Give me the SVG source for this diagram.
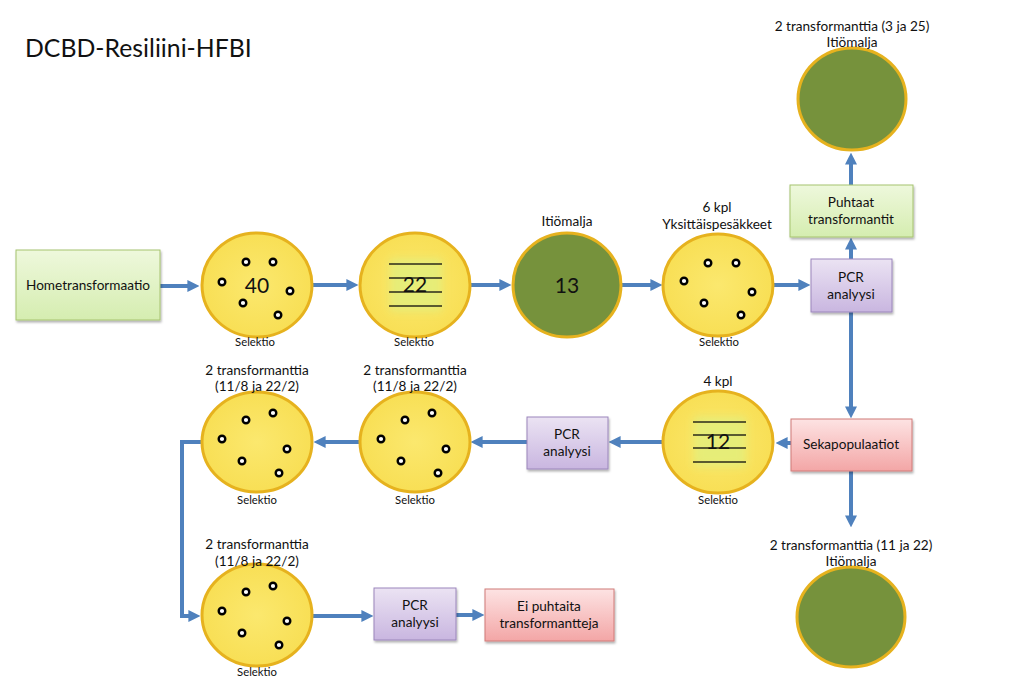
<svg xmlns="http://www.w3.org/2000/svg" width="1023" height="679" viewBox="0 0 1023 679">
<style>
text{font-family:Lato,"Open Sans","Liberation Sans",sans-serif;fill:#111;text-anchor:middle}
.title{font-size:24.8px;text-anchor:start}
.lbl{font-size:13.6px}
.sel{font-size:11.3px}
.num{font-size:21px}
.plate{fill:url(#yel);stroke:#e6b21e;stroke-width:3}
.spore{fill:#76923c;stroke:#e6b21e;stroke-width:3}
.dot{fill:#fff;stroke:#000;stroke-width:2.4}
.stripe{stroke:#2a2a1a;stroke-width:1.3}
.green{fill:url(#grn);stroke:#a6c36e;stroke-width:1}
.purple{fill:url(#pur);stroke:#9b86bb;stroke-width:1}
.red{fill:url(#red);stroke:#d07b78;stroke-width:1}
.conn path{fill:none;stroke:#4f81bd;stroke-width:4;marker-end:url(#ah)}
</style>
<defs>
<marker id="ah" viewBox="0 0 10 10" markerUnits="userSpaceOnUse" markerWidth="12" markerHeight="13" refX="3" refY="5" orient="auto">
<path d="M0,0 L10,5 L0,10 z" fill="#4f81bd"/>
</marker>
<radialGradient id="yel" cx="50%" cy="50%" r="50%">
<stop offset="0" stop-color="#fbe86e"/><stop offset="1" stop-color="#f8df55"/>
</radialGradient>
<linearGradient id="grn" x1="0" y1="0" x2="0" y2="1"><stop offset="0" stop-color="#eef8dc"/><stop offset="1" stop-color="#d5edb0"/></linearGradient>
<linearGradient id="pur" x1="0" y1="0" x2="0" y2="1"><stop offset="0" stop-color="#ebe3f3"/><stop offset="1" stop-color="#c9b6e0"/></linearGradient>
<linearGradient id="red" x1="0" y1="0" x2="0" y2="1"><stop offset="0" stop-color="#fde3e3"/><stop offset="1" stop-color="#f3a6a6"/></linearGradient>
<filter id="sh" x="-10%" y="-10%" width="130%" height="140%"><feDropShadow dx="1" dy="2" stdDeviation="1.2" flood-color="#000" flood-opacity="0.3"/></filter>
<filter id="glow" x="-30%" y="-30%" width="160%" height="160%"><feGaussianBlur stdDeviation="4"/></filter>
</defs>
<rect width="1023" height="679" fill="#fff"/>
<text class="title" x="25" y="57">DCBD-Resiliini-HFBI</text>

<g class="conn" id="connectors">
<path d="M160,286 H191"/>
<path d="M313,285 H350"/>
<path d="M471,285 H503"/>
<path d="M622,285 H654"/>
<path d="M774,285 H802"/>
<path d="M851,259 V246"/>
<path d="M851,185 V161"/>
<path d="M851,312 V410"/>
<path d="M851,471 V519"/>
<path d="M791,443 H784"/>
<path d="M662,442 H617"/>
<path d="M527,442 H479"/>
<path d="M360,442 H322"/>
<path d="M202,442 H182 V616 H192"/>
<path d="M312,616 H365"/>
<path d="M456,615 H476"/>
</g>

<g id="hometransformaatio">
<rect class="green" x="16" y="250" width="144" height="70" filter="url(#sh)"/>
<text class="lbl" x="88" y="290">Hometransformaatio</text>
</g>

<g id="plate40">
<ellipse class="plate" cx="257" cy="285" rx="55" ry="52"/>
<circle class="dot" cx="246" cy="262" r="3.3"/><circle class="dot" cx="273" cy="262" r="3.3"/>
<circle class="dot" cx="222" cy="282" r="3.3"/><circle class="dot" cx="290" cy="291" r="3.3"/>
<circle class="dot" cx="243" cy="303" r="3.3"/><circle class="dot" cx="278" cy="315" r="3.3"/>
<text class="num" x="257" y="293">40</text>
<text class="sel" x="255" y="346">Selektio</text>
</g>

<g id="plate22">
<ellipse class="plate" cx="415" cy="285" rx="55" ry="52"/>
<rect x="390" y="259" width="52" height="52" fill="#e4ee7a" filter="url(#glow)" opacity="0.9"/>
<line class="stripe" x1="389" y1="264" x2="442" y2="264"/>
<line class="stripe" x1="389" y1="278" x2="442" y2="278"/>
<line class="stripe" x1="389" y1="292" x2="442" y2="292"/>
<line class="stripe" x1="389" y1="306" x2="442" y2="306"/>
<text class="num" x="415" y="292" fill="#333">22</text>
<text class="sel" x="414" y="346">Selektio</text>
</g>

<g id="spore13">
<ellipse class="spore" cx="567" cy="285" rx="54" ry="52"/>
<text class="lbl" x="567" y="226">Itiömalja</text>
<text class="num" x="567" y="293">13</text>
</g>

<g id="plate6">
<ellipse class="plate" cx="718" cy="285" rx="55" ry="51"/>
<circle class="dot" cx="708" cy="263" r="3.3"/><circle class="dot" cx="736" cy="263" r="3.3"/>
<circle class="dot" cx="684" cy="281" r="3.3"/><circle class="dot" cx="752" cy="292" r="3.3"/>
<circle class="dot" cx="704" cy="303" r="3.3"/><circle class="dot" cx="741" cy="315" r="3.3"/>
<text class="lbl" x="717" y="212">6 kpl</text>
<text class="lbl" x="717" y="229">Yksittäispesäkkeet</text>
<text class="sel" x="719" y="346">Selektio</text>
</g>

<g id="pcr1">
<rect class="purple" x="811" y="259" width="81" height="53" filter="url(#sh)"/>
<text class="lbl" x="851" y="282">PCR</text>
<text class="lbl" x="851" y="299">analyysi</text>
</g>

<g id="puhtaat">
<rect class="green" x="790" y="185" width="123" height="52" filter="url(#sh)"/>
<text class="lbl" x="851" y="207">Puhtaat</text>
<text class="lbl" x="851" y="224">transformantit</text>
</g>

<g id="sporeTop">
<ellipse class="spore" cx="852" cy="99" rx="54" ry="51"/>
<text class="lbl" x="852" y="31">2 transformanttia (3 ja 25)</text>
<text class="lbl" x="852" y="47">Itiömalja</text>
</g>

<g id="sekapopulaatiot">
<rect class="red" x="791" y="419" width="121" height="52" filter="url(#sh)"/>
<text class="lbl" x="851" y="449">Sekapopulaatiot</text>
</g>

<g id="sporeBottom">
<ellipse class="spore" cx="851" cy="617" rx="54" ry="50"/>
<text class="lbl" x="851" y="550">2 transformanttia (11 ja 22)</text>
<text class="lbl" x="851" y="566">Itiömalja</text>
</g>

<g id="plate12">
<ellipse class="plate" cx="718" cy="442" rx="55" ry="51"/>
<rect x="694" y="417" width="52" height="50" fill="#e4ee7a" filter="url(#glow)" opacity="0.9"/>
<line class="stripe" x1="693" y1="422" x2="746" y2="422"/>
<line class="stripe" x1="693" y1="435" x2="746" y2="435"/>
<line class="stripe" x1="693" y1="448" x2="746" y2="448"/>
<line class="stripe" x1="693" y1="462" x2="746" y2="462"/>
<text class="num" x="718" y="449" fill="#333">12</text>
<text class="lbl" x="718" y="386">4 kpl</text>
<text class="sel" x="718" y="504">Selektio</text>
</g>

<g id="pcr2">
<rect class="purple" x="527" y="417" width="81" height="52" filter="url(#sh)"/>
<text class="lbl" x="567" y="439">PCR</text>
<text class="lbl" x="567" y="456">analyysi</text>
</g>

<g id="plate2a">
<ellipse class="plate" cx="415" cy="442" rx="55" ry="50"/>
<circle class="dot" cx="405" cy="420" r="3.3"/><circle class="dot" cx="432" cy="413" r="3.3"/>
<circle class="dot" cx="381" cy="439" r="3.3"/><circle class="dot" cx="446" cy="449" r="3.3"/>
<circle class="dot" cx="401" cy="461" r="3.3"/><circle class="dot" cx="438" cy="473" r="3.3"/>
<text class="lbl" x="415" y="375">2 transformanttia</text>
<text class="lbl" x="415" y="391">(11/8 ja 22/2)</text>
<text class="sel" x="415" y="504">Selektio</text>
</g>

<g id="plate2b">
<ellipse class="plate" cx="257" cy="442" rx="55" ry="50"/>
<circle class="dot" cx="246" cy="420" r="3.3"/><circle class="dot" cx="273" cy="413" r="3.3"/>
<circle class="dot" cx="222" cy="439" r="3.3"/><circle class="dot" cx="287" cy="449" r="3.3"/>
<circle class="dot" cx="242" cy="461" r="3.3"/><circle class="dot" cx="279" cy="473" r="3.3"/>
<text class="lbl" x="257" y="375">2 transformanttia</text>
<text class="lbl" x="257" y="391">(11/8 ja 22/2)</text>
<text class="sel" x="257" y="504">Selektio</text>
</g>

<g id="plate2c">
<ellipse class="plate" cx="257" cy="615" rx="55" ry="51"/>
<circle class="dot" cx="246" cy="592" r="3.3"/><circle class="dot" cx="273" cy="586" r="3.3"/>
<circle class="dot" cx="222" cy="611" r="3.3"/><circle class="dot" cx="287" cy="621" r="3.3"/>
<circle class="dot" cx="242" cy="633" r="3.3"/><circle class="dot" cx="279" cy="645" r="3.3"/>
<text class="lbl" x="257" y="549">2 transformanttia</text>
<text class="lbl" x="257" y="566">(11/8 ja 22/2)</text>
<text class="sel" x="257" y="676">Selektio</text>
</g>

<g id="pcr3">
<rect class="purple" x="374" y="588" width="82" height="52" filter="url(#sh)"/>
<text class="lbl" x="415" y="610">PCR</text>
<text class="lbl" x="415" y="627">analyysi</text>
</g>

<g id="eipuhtaita">
<rect class="red" x="485" y="589" width="129" height="52" filter="url(#sh)"/>
<text class="lbl" x="549" y="611">Ei puhtaita</text>
<text class="lbl" x="549" y="628">transformantteja</text>
</g>
</svg>
